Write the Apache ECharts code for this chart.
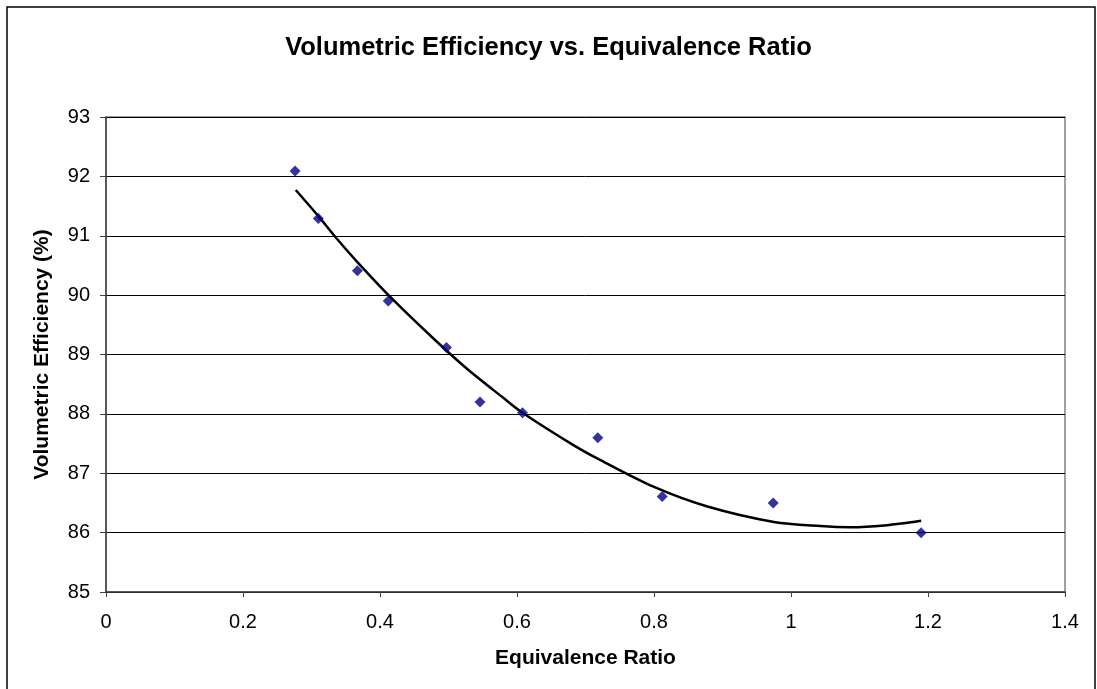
<!DOCTYPE html>
<html><head><meta charset="utf-8">
<script src="https://cdn.jsdelivr.net/npm/echarts@6/dist/echarts.min.js"></script>
<style>html,body{margin:0;padding:0;background:#fff}#c{width:1097px;height:689px}</style>
</head><body><div id="c"></div>
<script>
var equivalenceRatio = [0.276, 0.310, 0.367, 0.412, 0.497, 0.546, 0.608, 0.718, 0.812, 0.974, 1.190];
var volumetricEfficiency = [92.09, 91.29, 90.41, 89.90, 89.12, 88.20, 88.02, 87.60, 86.61, 86.50, 86.00];
var trendX = [0.277, 0.310, 0.337, 0.366, 0.415, 0.478, 0.527, 0.580, 0.608, 0.683, 0.722, 0.800, 0.878, 0.975, 1.043, 1.087, 1.136, 1.190];
var trendY = [91.77, 91.33, 90.95, 90.57, 89.97, 89.27, 88.76, 88.27, 88.02, 87.47, 87.22, 86.77, 86.44, 86.18, 86.11, 86.09, 86.12, 86.20];
var xTicks = [0, 0.2, 0.4, 0.6, 0.8, 1, 1.2, 1.4];
var yTicks = [85, 86, 87, 88, 89, 90, 91, 92, 93];

var chart = echarts.init(document.getElementById('c'));
var font = 'Liberation Sans, Arial, sans-serif';
chart.setOption({
  animation: false,
  backgroundColor: '#fff',
  title: {
    text: 'Volumetric Efficiency vs. Equivalence Ratio',
    left: 'center', top: 30,
    textStyle: {fontFamily: font, fontSize: 25.5, fontWeight: 'bold', color: '#000'}
  },
  graphic: [{
    type: 'rect', silent: true,
    shape: {x: 7, y: 7, width: 1088, height: 700},
    style: {fill: 'none', stroke: '#000', lineWidth: 1.5}
  }],
  grid: {left: 106, right: 32, top: 117, bottom: 97, show: true, borderColor: '#808080', borderWidth: 1.5, backgroundColor: 'transparent'},
  xAxis: {
    type: 'value', min: xTicks[0], max: xTicks[xTicks.length - 1], interval: 0.2,
    name: 'Equivalence Ratio', nameLocation: 'middle', nameGap: 56,
    nameTextStyle: {fontFamily: font, fontSize: 21, fontWeight: 'bold', color: '#000'},
    axisLine: {show: true, onZero: false, lineStyle: {color: '#404040', width: 1.5}},
    axisTick: {show: true, length: 5, lineStyle: {color: '#404040'}},
    axisLabel: {fontFamily: font, fontSize: 20, color: '#000', margin: 20,
      formatter: function (v) { return String(Math.round(v * 10) / 10); }},
    splitLine: {show: false}
  },
  yAxis: {
    type: 'value', min: yTicks[0], max: yTicks[yTicks.length - 1], interval: 1,
    name: 'Volumetric Efficiency (%)', nameLocation: 'middle', nameGap: 53,
    nameTextStyle: {fontFamily: font, fontSize: 21, fontWeight: 'bold', color: '#000'},
    axisLine: {show: true, lineStyle: {color: '#404040', width: 1.5}},
    axisTick: {show: true, length: 6, lineStyle: {color: '#404040'}},
    axisLabel: {fontFamily: font, fontSize: 20, color: '#000', margin: 16},
    splitLine: {show: true, lineStyle: {color: '#000', width: 1}}
  },
  series: [{
    type: 'line', data: trendX.map(function (x, i) { return [x, trendY[i]]; }),
    smooth: 0.3, showSymbol: false, symbol: 'none',
    lineStyle: {color: '#000', width: 2.5}, z: 2
  }, {
    type: 'scatter', data: equivalenceRatio.map(function (x, i) { return [x, volumetricEfficiency[i]]; }),
    symbol: 'diamond', symbolSize: 11,
    itemStyle: {color: '#000080'}, z: 3
  }]
});
</script></body></html>
